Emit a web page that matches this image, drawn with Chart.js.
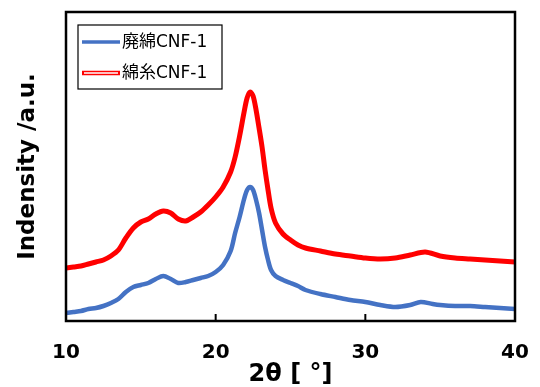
<!DOCTYPE html>
<html>
<head>
<meta charset="utf-8">
<script src="https://cdn.jsdelivr.net/npm/chart.js@4.4.1/dist/chart.umd.min.js"></script>
<style>
  html, body { margin: 0; padding: 0; background: #fff; }
  #wrap { width: 540px; height: 387px; }
</style>
</head>
<body>
<div id="wrap"><canvas id="xrdChart" width="540" height="387"></canvas></div>
<script>
const seriesNames = ['廃綿CNF-1', '綿糸CNF-1'];
const xTicks = [10, 20, 30, 40];

const wasteX = [10, 10.5, 11, 11.5, 12, 12.5, 13, 13.5, 14, 14.5, 15, 15.5, 16, 16.5, 17, 17.5, 18, 18.5, 19, 19.5,
    20, 20.5, 21, 21.3, 21.6, 21.9, 22.1, 22.3, 22.5, 22.7, 22.9, 23.1, 23.3, 23.5, 23.7, 24, 24.5, 25, 25.5, 26,
    27, 28, 29, 30, 31, 32, 33, 33.7, 34.5, 35, 36, 37, 38, 39, 40];
const wasteY = [8, 9, 10, 12, 13, 15, 18, 22, 29, 34, 36, 38, 42, 45, 42, 38, 39, 41, 43, 45,
    49, 56, 70, 88, 104, 122, 131, 134, 131, 121, 108, 91, 74, 61, 51, 45, 41, 38, 35, 31,
    27, 24, 21, 19, 16, 14, 16, 19, 17, 16, 15, 15, 14, 13, 12];

const yarnX = [10, 10.5, 11, 11.5, 12, 12.5, 13, 13.5, 14, 14.5, 15, 15.5, 16, 16.5, 17, 17.5, 18, 18.5, 19, 19.5,
    20, 20.5, 21, 21.3, 21.6, 21.9, 22.1, 22.3, 22.5, 22.7, 22.9, 23.1, 23.3, 23.5, 23.7, 24, 24.5, 25, 25.5, 26,
    27, 28, 29, 30, 31, 32, 33, 34, 35, 36, 37, 38, 39, 40];
const yarnY = [53, 54, 55, 57, 59, 61, 65, 71, 83, 93, 99, 102, 107, 110, 108, 102, 100, 104, 109, 116,
    124, 134, 149, 164, 185, 209, 223, 229, 225, 211, 193, 174, 151, 131, 113, 98, 87, 81, 76, 73,
    70, 67, 65, 63, 62, 63, 66, 69, 65, 63, 62, 61, 60, 59];

const fontFamily = '"DejaVu Sans", "Noto Sans CJK JP", sans-serif';
const blue = '#4472C4';
const red = '#FF0000';

const toPoints = (xs, ys) => xs.map((x, i) => ({ x: x, y: ys[i] }));

// frame around plot + inward ticks + boxed legend
const framePlugin = {
    id: 'frame',
    afterDraw(chart) {
        const { ctx, chartArea: a } = chart;
        const xs = chart.scales.x;
        ctx.save();
        ctx.strokeStyle = '#000';
        ctx.lineWidth = 2.5;
        ctx.strokeRect(a.left, a.top, a.right - a.left, a.bottom - a.top);
        ctx.lineWidth = 2;
        xTicks.slice(1, -1).forEach(v => {
            const px = xs.getPixelForValue(v);
            ctx.beginPath();
            ctx.moveTo(px, a.bottom);
            ctx.lineTo(px, a.bottom - 7);
            ctx.stroke();
        });

        // legend
        const bx = 78, by = 25, bw = 144, bh = 64;
        ctx.fillStyle = '#fff';
        ctx.fillRect(bx, by, bw, bh);
        ctx.lineWidth = 1.2;
        ctx.strokeStyle = '#000';
        ctx.strokeRect(bx, by, bw, bh);
        ctx.font = '17px ' + fontFamily;
        ctx.textBaseline = 'middle';
        chart.data.datasets.forEach((ds, i) => {
            const y = by + 17 + i * 31;
            ctx.beginPath();
            ctx.moveTo(82, y);
            ctx.lineTo(120, y);
            ctx.strokeStyle = ds.borderColor;
            ctx.lineWidth = i === 0 ? 3.5 : 4.5;
            ctx.stroke();
            if (i === 1) {
                ctx.beginPath();
                ctx.moveTo(84, y);
                ctx.lineTo(118, y);
                ctx.strokeStyle = '#fff';
                ctx.lineWidth = 1.4;
                ctx.stroke();
            }
            ctx.fillStyle = '#000';
            ctx.fillText(ds.label, 122, y + 1);
        });
        ctx.restore();
    }
};

new Chart(document.getElementById('xrdChart'), {
    type: 'line',
    data: {
        datasets: [{
            label: seriesNames[0],
            data: toPoints(wasteX, wasteY),
            borderColor: blue,
            borderWidth: 4.5,
            pointRadius: 0,
            tension: 0.3,
            order: 1
        }, {
            label: seriesNames[1],
            data: toPoints(yarnX, yarnY),
            borderColor: red,
            borderWidth: 5,
            pointRadius: 0,
            tension: 0.3,
            order: 2
        }]
    },
    options: {
        responsive: false,
        animation: false,
        layout: { padding: { top: 12, right: 25, left: 0, bottom: 0 } },
        plugins: {
            legend: { display: false },
            tooltip: { enabled: false }
        },
        scales: {
            x: {
                type: 'linear',
                min: 10,
                max: 40,
                afterBuildTicks: s => { s.ticks = xTicks.map(v => ({ value: v })); },
                afterFit: s => { s.height = 66; s.paddingLeft = 0; s.paddingRight = 0; },
                grid: { display: false, drawTicks: false },
                border: { display: false },
                ticks: {
                    padding: 20,
                    color: '#000',
                    font: { family: fontFamily, size: 20, weight: 'bold' }
                },
                title: {
                    display: true,
                    text: '2θ [ °]',
                    color: '#000',
                    padding: { top: 0, bottom: -2 },
                    font: { family: fontFamily, size: 24, weight: 'bold' }
                }
            },
            y: {
                min: 0,
                max: 309,
                afterFit: s => { s.width = 66; },
                grid: { display: false, drawTicks: false },
                border: { display: false },
                ticks: { display: false },
                title: {
                    display: true,
                    text: 'Indensity /a.u.',
                    color: '#000',
                    padding: { top: 14, bottom: 0 },
                    font: { family: fontFamily, size: 23, weight: 'bold' }
                }
            }
        }
    },
    plugins: [framePlugin]
});
</script>
</body>
</html>
